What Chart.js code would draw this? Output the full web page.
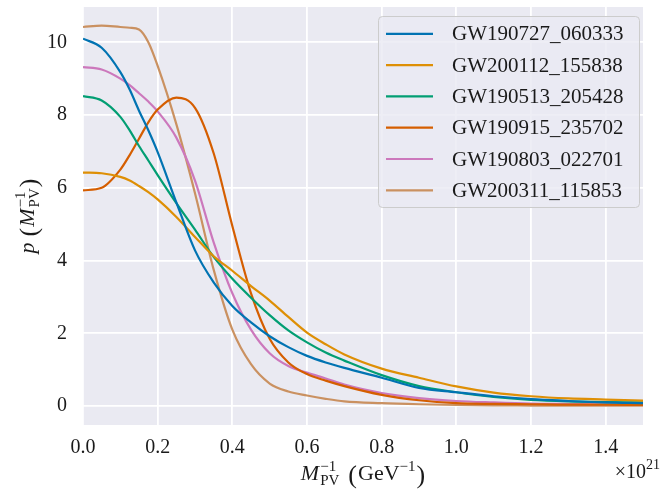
<!DOCTYPE html>
<html><head><meta charset="utf-8">
<script src="https://cdn.jsdelivr.net/npm/chart.js@4"></script>
<style>html,body{margin:0;padding:0;background:#fff}#wrap{width:667px;height:494px;position:relative}</style>
</head><body><div id="wrap"><canvas id="c"></canvas></div>
<script>
// ---- data (x in units of 1e21 GeV^-1) ----
const xGrid = [0, 0.05, 0.1, 0.125, 0.15, 0.175, 0.2, 0.25, 0.3, 0.35, 0.4, 0.45, 0.5, 0.55, 0.6, 0.65, 0.7, 0.8, 0.9, 1.0, 1.1, 1.2, 1.3, 1.4, 1.5];
const seriesNames = ['GW190727_060333', 'GW200112_155838', 'GW190513_205428', 'GW190915_235702', 'GW190803_022701', 'GW200311_115853'];
const gw190727 = [10.1, 9.85, 9.18, 8.7, 8.12, 7.58, 6.98, 5.6, 4.28, 3.4, 2.75, 2.3, 1.92, 1.62, 1.38, 1.2, 1.05, 0.78, 0.5, 0.38, 0.27, 0.19, 0.14, 0.1, 0.08];
const gw200112 = [6.42, 6.4, 6.3, 6.2, 6.05, 5.88, 5.68, 5.2, 4.65, 4.12, 3.72, 3.3, 2.9, 2.45, 2.02, 1.7, 1.42, 1.03, 0.78, 0.54, 0.37, 0.27, 0.21, 0.18, 0.15];
const gw190513 = [8.52, 8.4, 7.95, 7.58, 7.15, 6.75, 6.35, 5.58, 4.85, 4.1, 3.5, 2.98, 2.5, 2.08, 1.75, 1.47, 1.25, 0.85, 0.55, 0.38, 0.25, 0.17, 0.13, 0.11, 0.1];
const gw190915 = [5.93, 6.0, 6.5, 6.9, 7.35, 7.8, 8.15, 8.48, 8.2, 6.95, 4.95, 3.1, 1.85, 1.2, 0.88, 0.7, 0.55, 0.31, 0.16, 0.08, 0.06, 0.05, 0.04, 0.04, 0.03];
const gw190803 = [9.32, 9.25, 9.0, 8.82, 8.6, 8.37, 8.1, 7.38, 6.2, 4.5, 3.1, 2.1, 1.45, 1.1, 0.92, 0.76, 0.59, 0.36, 0.22, 0.14, 0.1, 0.07, 0.06, 0.05, 0.05];
const gw200311 = [10.42, 10.46, 10.42, 10.4, 10.35, 10.0, 9.35, 7.75, 5.85, 3.75, 2.1, 1.15, 0.62, 0.4, 0.29, 0.2, 0.13, 0.08, 0.05, 0.03, 0.02, 0.015, 0.01, 0.01, 0.01];
const xTickValues = [0, 0.2, 0.4, 0.6, 0.8, 1.0, 1.2, 1.4];
const yTickValues = [0, 2, 4, 6, 8, 10];
const xExponent = '21';

// ---- styling ----
const seriesValues = [gw190727, gw200112, gw190513, gw190915, gw190803, gw200311];
const palette = ['#0173B2', '#DE8F05', '#029E73', '#D55E00', '#CC78BC', '#CA9161'];
const FONT = "'Liberation Serif', 'Times New Roman', serif";
const TXT = '#1a1a1a';

function drawRich(ctx, parts, x, y, align) {
  const font = p => (p.i ? 'italic ' : '') + p.s + 'px ' + FONT;
  let w = 0, hold = 0;
  for (const p of parts) {
    ctx.font = font(p);
    const pw = ctx.measureText(p.t).width + (p.gap || 0);
    if (p.hold) { hold = pw; continue; }
    w += Math.max(pw, hold); hold = 0;
  }
  let cx = align === 'center' ? x - w / 2 : (align === 'right' ? x - w : x);
  hold = 0;
  ctx.textBaseline = 'alphabetic';
  ctx.textAlign = 'left';
  for (const p of parts) {
    ctx.font = font(p);
    ctx.fillText(p.t, cx + (p.dx || 0), y + (p.dy || 0));
    const pw = ctx.measureText(p.t).width + (p.gap || 0);
    if (p.hold) { hold = pw; continue; }
    cx += Math.max(pw, hold); hold = 0;
  }
}

const decorPlugin = {
  id: 'decor',
  beforeDraw(chart) {
    const { ctx, chartArea: a } = chart;
    ctx.save();
    ctx.fillStyle = '#EAEAF2';
    ctx.fillRect(a.left, a.top, a.right - a.left, a.bottom - a.top);
    ctx.restore();
  },
  afterDraw(chart) {
    const { ctx, chartArea: a } = chart;
    ctx.save();
    ctx.fillStyle = TXT;
    // x title
    drawRich(ctx, [
      { t: 'M', s: 22, i: 1, gap: 1 },
      { t: '\u22121', s: 15, dy: -9, hold: 1 },
      { t: 'PV', s: 15, dy: 5, gap: 9 },
      { t: '(', s: 26, dy: 3, gap: 1 },
      { t: 'GeV', s: 22 },
      { t: '\u22121', s: 15, dy: -9, gap: 1 },
      { t: ')', s: 26, dy: 3 }
    ], (a.left + a.right) / 2, 480, 'center');
    // offset text
    drawRich(ctx, [
      { t: '\u00d710', s: 20 },
      { t: xExponent, s: 14, dy: -9 }
    ], a.right + 17, 478, 'right');
    // y title
    ctx.translate(34, (a.top + a.bottom) / 2);
    ctx.rotate(-Math.PI / 2);
    drawRich(ctx, [
      { t: 'p', s: 22, i: 1, gap: 6 },
      { t: '(', s: 26, dy: 3, gap: 1 },
      { t: 'M', s: 22, i: 1, gap: 1 },
      { t: '\u22121', s: 15, dy: -9, hold: 1 },
      { t: 'PV', s: 15, dy: 5, gap: 1 },
      { t: ')', s: 26, dy: 3 }
    ], 0, 0, 'center');
    ctx.restore();

    // legend
    ctx.save();
    const bx = 378.5, by = 16.5, bw = 261, bh = 191, r = 4;
    ctx.beginPath();
    ctx.moveTo(bx + r, by);
    ctx.arcTo(bx + bw, by, bx + bw, by + bh, r);
    ctx.arcTo(bx + bw, by + bh, bx, by + bh, r);
    ctx.arcTo(bx, by + bh, bx, by, r);
    ctx.arcTo(bx, by, bx + bw, by, r);
    ctx.closePath();
    ctx.fillStyle = 'rgba(234,234,242,0.8)';
    ctx.fill();
    ctx.strokeStyle = '#cccccc';
    ctx.lineWidth = 1;
    ctx.stroke();
    chart.data.datasets.forEach((ds, i) => {
      const cy = 33.8 + i * 31.3;
      ctx.strokeStyle = ds.borderColor;
      ctx.lineWidth = 2.2;
      ctx.beginPath();
      ctx.moveTo(386, cy);
      ctx.lineTo(433, cy);
      ctx.stroke();
      ctx.fillStyle = TXT;
      ctx.font = '21px ' + FONT;
      ctx.textAlign = 'left';
      ctx.textBaseline = 'middle';
      ctx.fillText(ds.label, 452, cy + 1);
    });
    ctx.restore();
  }
};

const datasets = seriesNames.map((name, k) => ({
  label: name,
  data: xGrid.map((x, j) => ({ x: x, y: seriesValues[k][j] })),
  borderColor: palette[k],
  backgroundColor: palette[k],
  borderWidth: 2.2,
  pointRadius: 0,
  fill: false,
  cubicInterpolationMode: 'monotone'
}));

new Chart(document.getElementById('c'), {
  type: 'line',
  data: { datasets: datasets },
  options: {
    responsive: true,
    maintainAspectRatio: false,
    devicePixelRatio: 1,
    animation: false,
    layout: { padding: { top: 7, right: 24, left: 0, bottom: 0 } },
    plugins: { legend: { display: false }, tooltip: { enabled: false } },
    scales: {
      x: {
        type: 'linear', min: 0, max: 1.5,
        afterBuildTicks: s => { s.ticks = xTickValues.map(v => ({ value: v })); },
        afterFit: s => { s.height = 69; s.paddingLeft = 0; s.paddingRight = 0; },
        grid: { color: '#ffffff', lineWidth: 1.8, drawTicks: false },
        border: { display: false },
        ticks: { font: { family: FONT, size: 20 }, color: TXT, padding: 11, maxRotation: 0,
          callback: v => Number(v).toFixed(1) }
      },
      y: {
        type: 'linear', min: -0.52, max: 10.97,
        afterBuildTicks: s => { s.ticks = yTickValues.map(v => ({ value: v })); },
        afterFit: s => { s.width = 83; s.paddingTop = 0; s.paddingBottom = 0; },
        grid: { color: '#ffffff', lineWidth: 1.8, drawTicks: false },
        border: { display: false },
        ticks: { font: { family: FONT, size: 20 }, color: TXT, padding: 16,
          callback: v => String(v) }
      }
    }
  },
  plugins: [decorPlugin]
});
</script></body></html>
